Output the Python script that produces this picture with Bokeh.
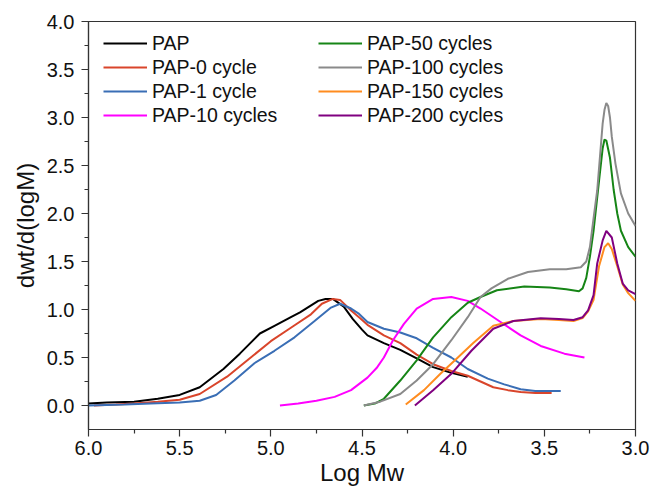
from bokeh.plotting import figure
from bokeh.models import Range1d, FixedTicker, Legend, LegendItem, PrintfTickFormatter
from bokeh.embed import file_html
from bokeh.resources import INLINE

# ---- data ----
names = ["PAP", "PAP-0 cycle", "PAP-1 cycle", "PAP-10 cycles",
         "PAP-50 cycles", "PAP-100 cycles", "PAP-150 cycles", "PAP-200 cycles"]
colors = ["#000000", "#D9452B", "#3A6EB5", "#FF00FF",
          "#168516", "#8A8A8A", "#FF8C1F", "#800080"]

pap_x = [6.0, 5.9, 5.75, 5.62, 5.5, 5.39, 5.26, 5.17, 5.06, 4.98, 4.89, 4.84, 4.74, 4.7,
         4.66, 4.6, 4.55, 4.5, 4.47, 4.38, 4.29, 4.2, 4.11, 4.01, 3.92]
pap_y = [0.02, 0.03, 0.04, 0.07, 0.11, 0.19, 0.38, 0.54, 0.75, 0.83, 0.92, 0.97, 1.09, 1.11,
         1.11, 1.03, 0.9, 0.79, 0.73, 0.65, 0.58, 0.49, 0.4, 0.34, 0.3]

pap0_x = [5.97, 5.85, 5.75, 5.62, 5.5, 5.39, 5.24, 5.11, 5.0, 4.89, 4.78, 4.72, 4.66, 4.62,
          4.56, 4.51, 4.47, 4.38, 4.29, 4.2, 4.11, 4.01, 3.92, 3.85, 3.78, 3.7, 3.63, 3.55, 3.46]
pap0_y = [0.0, 0.01, 0.02, 0.04, 0.06, 0.12, 0.3, 0.5, 0.67, 0.81, 0.95, 1.06, 1.11, 1.1,
          0.99, 0.91, 0.84, 0.73, 0.65, 0.53, 0.43, 0.36, 0.31, 0.25, 0.19, 0.16, 0.14, 0.13, 0.13]

pap1_x = [6.0, 5.8, 5.66, 5.5, 5.39, 5.3, 5.2, 5.09, 4.98, 4.87, 4.76, 4.67, 4.62, 4.56,
          4.52, 4.47, 4.38, 4.29, 4.2, 4.11, 4.01, 3.92, 3.81, 3.72, 3.63, 3.55, 3.48, 3.41]
pap1_y = [0.0, 0.01, 0.02, 0.03, 0.05, 0.11, 0.26, 0.44, 0.57, 0.71, 0.88, 1.02, 1.06, 1.01,
          0.96, 0.87, 0.8, 0.76, 0.7, 0.6, 0.5, 0.38, 0.28, 0.22, 0.17, 0.15, 0.15, 0.15]

pap10_x = [4.95, 4.85, 4.75, 4.65, 4.56, 4.47, 4.42, 4.38, 4.33, 4.27, 4.2, 4.11, 4.01, 3.92,
           3.85, 3.74, 3.63, 3.52, 3.39, 3.28]
pap10_y = [0.0, 0.02, 0.05, 0.09, 0.16, 0.29, 0.39, 0.5, 0.68, 0.85, 1.01, 1.11, 1.13, 1.09,
           1.01, 0.87, 0.73, 0.62, 0.54, 0.5]

pap50_x = [4.49, 4.43, 4.38, 4.29, 4.2, 4.11, 4.01, 3.92, 3.85, 3.76, 3.61, 3.47, 3.38, 3.31,
           3.29, 3.27, 3.25, 3.23, 3.2, 3.18, 3.17, 3.16, 3.14, 3.12, 3.1, 3.08, 3.04, 3.0]
pap50_y = [0.0, 0.02, 0.07, 0.26, 0.47, 0.71, 0.92, 1.07, 1.13, 1.2, 1.24, 1.23, 1.21, 1.19,
           1.22, 1.33, 1.55, 1.82, 2.34, 2.68, 2.77, 2.76, 2.58, 2.25, 2.0, 1.82, 1.65, 1.55]

pap100_x = [4.49, 4.4, 4.29, 4.2, 4.11, 4.01, 3.92, 3.85, 3.79, 3.7, 3.59, 3.47, 3.38, 3.3,
            3.27, 3.25, 3.23, 3.21, 3.18, 3.17, 3.16, 3.15, 3.14, 3.13, 3.11, 3.08, 3.04, 3.0]
pap100_y = [0.0, 0.04, 0.12, 0.26, 0.43, 0.68, 0.92, 1.13, 1.22, 1.32, 1.39, 1.42, 1.42, 1.44,
            1.5, 1.65, 1.95, 2.24, 2.94, 3.08, 3.15, 3.12, 3.0, 2.8, 2.52, 2.21, 2.0, 1.87]

pap150_x = [4.26, 4.16, 4.07, 3.98, 3.89, 3.78, 3.67, 3.52, 3.42, 3.34, 3.29, 3.26, 3.23,
            3.2, 3.17, 3.15, 3.13, 3.1, 3.07, 3.04, 3.0]
pap150_y = [0.01, 0.16, 0.33, 0.49, 0.65, 0.83, 0.88, 0.9, 0.89, 0.88, 0.91, 0.98, 1.1,
            1.45, 1.65, 1.69, 1.63, 1.45, 1.26, 1.17, 1.09]

pap200_x = [4.21, 4.11, 4.01, 3.9, 3.78, 3.67, 3.52, 3.42, 3.34, 3.29, 3.26, 3.23, 3.21,
            3.18, 3.16, 3.13, 3.1, 3.07, 3.04, 3.0]
pap200_y = [0.0, 0.16, 0.33, 0.57, 0.8, 0.88, 0.91, 0.9, 0.89, 0.92, 0.99, 1.15, 1.48,
            1.72, 1.82, 1.75, 1.48, 1.27, 1.2, 1.16]

series_x = [pap_x, pap0_x, pap1_x, pap10_x, pap50_x, pap100_x, pap150_x, pap200_x]
series_y = [pap_y, pap0_y, pap1_y, pap10_y, pap50_y, pap100_y, pap150_y, pap200_y]

x_ticks = [3.0, 3.5, 4.0, 4.5, 5.0, 5.5, 6.0]
x_minor = [3.25, 3.75, 4.25, 4.75, 5.25, 5.75]
y_ticks = [0.0, 0.5, 1.0, 1.5, 2.0, 2.5, 3.0, 3.5, 4.0]
y_minor = [0.25, 0.75, 1.25, 1.75, 2.25, 2.75, 3.25, 3.75]

FONT = "Liberation Sans"

p = figure(width=651, height=490, output_backend="svg", toolbar_location=None,
           x_range=Range1d(6.0, 3.0), y_range=Range1d(-0.25, 4.0),
           min_border_left=88, min_border_right=16, min_border_top=21, min_border_bottom=61)
p.xgrid.visible = False
p.ygrid.visible = False
p.outline_line_color = "#333333"
p.outline_line_width = 1.2
p.background_fill_color = "white"
p.border_fill_color = "white"

p.xaxis.ticker = FixedTicker(ticks=x_ticks, minor_ticks=x_minor)
p.yaxis.ticker = FixedTicker(ticks=y_ticks, minor_ticks=y_minor)
for ax in (p.xaxis[0], p.yaxis[0]):
    ax.formatter = PrintfTickFormatter(format="%.1f")
    ax.axis_line_color = "#333333"
    ax.axis_line_width = 1.2
    ax.major_tick_line_color = "#333333"
    ax.minor_tick_line_color = "#333333"
    ax.major_tick_line_width = 1.2
    ax.minor_tick_line_width = 1.2
    ax.major_tick_in = 0
    ax.minor_tick_in = 0
    ax.major_tick_out = 7
    ax.minor_tick_out = 4
    ax.major_label_text_font = FONT
    ax.major_label_text_font_size = "20px"
    ax.major_label_text_color = "#111111"
    ax.axis_label_text_font = FONT
    ax.axis_label_text_font_size = "24px"
    ax.axis_label_text_font_style = "normal"
    ax.axis_label_text_color = "#111111"
p.xaxis.axis_label = "Log Mw"
p.yaxis.axis_label = "dwt/d(logM)"
p.xaxis.major_label_standoff = 4
p.yaxis.major_label_standoff = 7
p.xaxis.axis_label_standoff = 1
p.yaxis.axis_label_standoff = 5

renderers = []
for xs, ys, c in zip(series_x, series_y, colors):
    r = p.line(xs, ys, line_color=c, line_width=2)
    renderers.append(r)

def make_legend(idx, loc):
    lg = Legend(items=[LegendItem(label=names[i], renderers=[renderers[i]]) for i in idx],
                location=loc)
    lg.label_text_font = FONT
    lg.label_text_font_size = "19.5px"
    lg.label_text_color = "#111111"
    lg.glyph_width = 44
    lg.glyph_height = 24
    lg.label_height = 24
    lg.label_standoff = 5
    lg.spacing = 0
    lg.padding = 0
    lg.margin = 0
    lg.border_line_color = None
    lg.background_fill_alpha = 0
    return lg

p.add_layout(make_legend([0, 1, 2, 3], (15, 302)))
p.add_layout(make_legend([4, 5, 6, 7], (230, 302)))

open("out.html", "w").write(file_html(p, INLINE))
